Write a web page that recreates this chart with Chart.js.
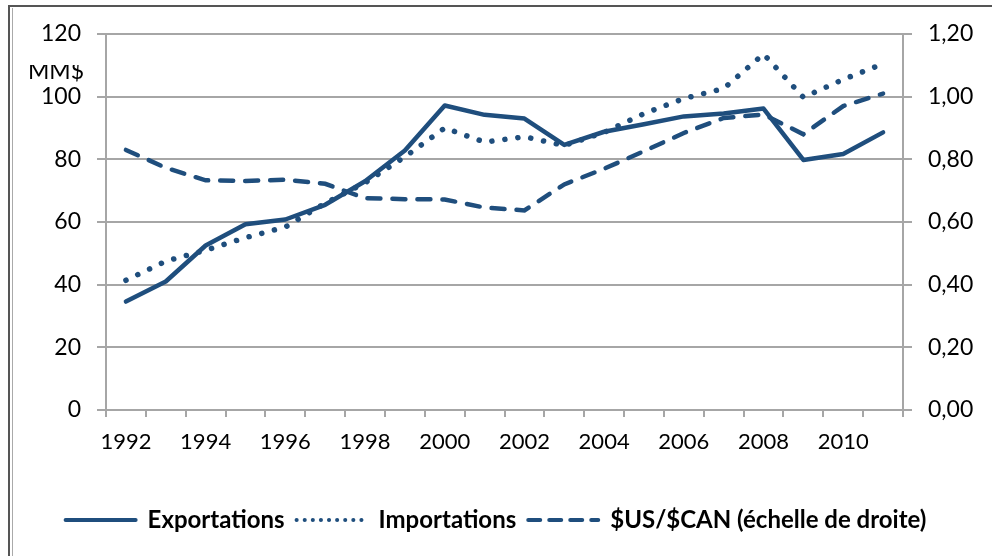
<!DOCTYPE html>
<html>
<head>
<meta charset="utf-8">
<script src="https://cdn.jsdelivr.net/npm/chart.js@4/dist/chart.umd.min.js"></script>
<style>
	html, body { margin: 0; padding: 0; background: #fff; }
	#wrap { position: relative; width: 992px; height: 556px; }
</style>
</head>
<body>
<div id="wrap"><canvas id="myChart" width="992" height="556"></canvas></div>
<script>
// annees
let years = ['1992','1993','1994','1995','1996','1997','1998','1999','2000','2001',
	'2002','2003','2004','2005','2006','2007','2008','2009','2010','2011']
// milliards de $ (echelle de gauche)
let exportations = [34.6, 41, 52.5, 59.3, 60.8, 65.5, 73, 82.8, 97.2, 94.2,
	93, 84.6, 88.8, 91.2, 93.7, 94.6, 96.2, 79.8, 81.7, 88.6]
let importations = [41.4, 47.5, 51, 55, 58.4, 66, 72.5, 80.8, 90, 85.5,
	87.2, 84.4, 88.6, 94.6, 99.4, 102.6, 113.6, 99.8, 105.5, 110.5]
// $US/$CAN (echelle de droite)
let usCan = [0.83, 0.773, 0.733, 0.731, 0.735, 0.722, 0.676, 0.673, 0.672, 0.646,
	0.637, 0.72, 0.77, 0.826, 0.884, 0.932, 0.943, 0.88, 0.97, 1.01]
let leftTicks = [0, 20, 40, 60, 80, 100, 120]
let rightTicks = [0, 0.2, 0.4, 0.6, 0.8, 1.0, 1.2]

let blue = '#1f4e7d'
let gridGray = '#a6a6a6'
let font = 'Lato, "Noto Sans", sans-serif'

let frame = {
	id : 'frame',
	beforeDraw : c => {
		let ctx = c.ctx
		ctx.save()
		ctx.fillStyle = '#fff'
		ctx.fillRect(0, 0, c.width, c.height)
		ctx.strokeStyle = '#555'
		ctx.lineWidth = 2
		ctx.beginPath()
		ctx.moveTo(9, 556)
		ctx.lineTo(9, 6)
		ctx.lineTo(992, 6)
		ctx.stroke()
		ctx.strokeStyle = '#aaa'
		ctx.lineWidth = 1
		ctx.beginPath()
		ctx.moveTo(12.5, 556)
		ctx.lineTo(12.5, 8)
		ctx.stroke()
		ctx.restore()
	},
	afterDraw : c => {
		// titre d'axe coupe par le haut, comme dans l'original
		let ctx = c.ctx
		ctx.save()
		ctx.beginPath()
		ctx.rect(20, 65, 80, 18)
		ctx.clip()
		ctx.fillStyle = '#000'
		ctx.font = '23px ' + font
		ctx.textAlign = 'right'
		ctx.textBaseline = 'alphabetic'
		ctx.fillText('MM$', 84, 79)
		ctx.restore()
	}
}

new Chart(document.getElementById('myChart'), {
	type : 'line',
	data : {
		labels : years,
		datasets : [{
			label : 'Exportations',
			data : exportations,
			yAxisID : 'y',
			borderColor : blue,
			backgroundColor : blue,
			borderWidth : 4.5,
			borderCapStyle : 'round',
			borderJoinStyle : 'round',
			pointRadius : 0,
			tension : 0
		}, {
			label : 'Importations',
			data : importations,
			yAxisID : 'y',
			borderColor : blue,
			backgroundColor : blue,
			borderWidth : 5.5,
			borderDash : [0.1, 13],
			borderCapStyle : 'round',
			pointRadius : 0,
			tension : 0
		}, {
			label : '$US/$CAN (échelle de droite)',
			data : usCan,
			yAxisID : 'y1',
			borderColor : blue,
			backgroundColor : blue,
			borderWidth : 4.5,
			borderDash : [13, 12],
			borderCapStyle : 'round',
			pointRadius : 0,
			tension : 0
		}]
	},
	options : {
		responsive : false,
		animation : false,
		layout : { padding : { top : 34, left : 0, right : 0, bottom : 14 } },
		plugins : {
			tooltip : { enabled : false },
			legend : {
				position : 'bottom',
				labels : {
					usePointStyle : true,
					pointStyle : 'line',
					pointStyleWidth : 70,
					boxHeight : 22,
					padding : 12,
					color : '#000',
					font : { family : font, size : 24, weight : 'bold' },
					generateLabels : c => c.data.datasets.map((d, i) => ({
						text : d.label,
						datasetIndex : i,
						fillStyle : d.borderColor,
						strokeStyle : d.borderColor,
						lineWidth : 4,
						lineDash : i === 1 ? [0.1, 8] : (i === 2 ? [12, 9] : []),
						lineCap : 'round',
						pointStyle : 'line',
						fontColor : '#000',
						hidden : false
					}))
				}
			}
		},
		scales : {
			x : {
				offset : true,
				grid : {
					offset : true,
					drawOnChartArea : false,
					drawTicks : true,
					tickLength : 7,
					color : gridGray,
					lineWidth : 2
				},
				border : { color : gridGray, width : 2 },
				ticks : {
					autoSkip : false,
					maxRotation : 0,
					padding : 12,
					color : '#000',
					font : { family : font, size : 22 },
					callback : (v, i) => i % 2 === 0 ? years[i] : ''
				},
				afterFit : s => { s.height = 86 }
			},
			y : {
				position : 'left',
				min : 0,
				max : 120,
				afterBuildTicks : s => { s.ticks = leftTicks.map(v => ({ value : v })) },
				grid : { color : gridGray, lineWidth : 2, tickLength : 9 },
				border : { color : gridGray, width : 2 },
				ticks : {
					padding : 16,
					color : '#000',
					font : { family : font, size : 23 }
				},
				afterFit : s => { s.width = 106 }
			},
			y1 : {
				position : 'right',
				min : 0,
				max : 1.2,
				afterBuildTicks : s => { s.ticks = rightTicks.map(v => ({ value : v })) },
				grid : { drawOnChartArea : false, color : gridGray, lineWidth : 2, tickLength : 9 },
				border : { color : gridGray, width : 2 },
				ticks : {
					padding : 16,
					color : '#000',
					font : { family : font, size : 23 },
					callback : v => v.toFixed(2).replace('.', ',')
				},
				afterFit : s => { s.width = 89 }
			}
		}
	},
	plugins : [frame]
})
</script>
</body>
</html>
